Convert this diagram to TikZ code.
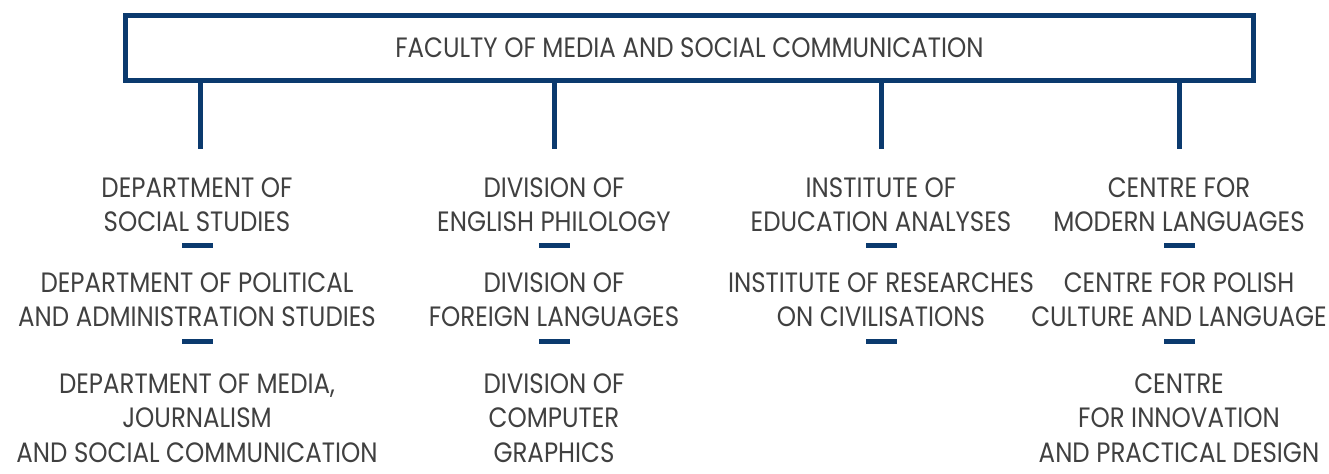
\documentclass[tikz,border=0pt]{standalone}
\usepackage{fontspec}
\setmainfont{Poppins}[FakeStretch=0.875]
\usetikzlibrary{positioning}

\definecolor{navy}{HTML}{0B3A6E}
\definecolor{ink}{HTML}{404040}

\begin{document}
\begin{tikzpicture}[x=0.75pt,y=-0.75pt,line cap=butt]
  \tikzstyle{head}=[draw=navy,line width=3.75pt,outer sep=0pt,
                    minimum width=846pt,minimum height=48.75pt,
                    text=ink,font=\fontsize{21}{25.9}\selectfont]
  \tikzstyle{unit}=[anchor=north,inner sep=0pt,align=center,
                    text=ink,font=\fontsize{21}{25.9}\selectfont]
  \tikzstyle{sepbar}=[fill=navy,inner sep=0pt,minimum width=23.25pt,
                      minimum height=3.75pt]
  \tikzstyle{link}=[draw=navy,line width=3.75pt]

  \useasboundingbox (0,0) rectangle (1329,474);

  \node[head] (fac) at (689.5,48) {FACULTY OF MEDIA AND SOCIAL COMMUNICATION};

  % ends of the four stems
  \coordinate (s1) at (200.5,149);
  \coordinate (s2) at (554,149);
  \coordinate (s3) at (881.5,149);
  \coordinate (s4) at (1179,149);

  % departments
  \node[unit] (dss) at (197,177) {DEPARTMENT OF\\SOCIAL STUDIES};
  \node[sepbar] (dss-b) at (197,245.5) {};
  \node[unit] (dpa) at (197,272) {DEPARTMENT OF POLITICAL\\AND ADMINISTRATION STUDIES};
  \node[sepbar] (dpa-b) at (197,341.5) {};
  \node[unit] (dmj) at (197,373) {DEPARTMENT OF MEDIA,\\JOURNALISM\\AND SOCIAL COMMUNICATION};

  % divisions
  \node[unit] (dep) at (554,177) {DIVISION OF\\ENGLISH PHILOLOGY};
  \node[sepbar] (dep-b) at (554,245.5) {};
  \node[unit] (dfl) at (554,272) {DIVISION OF\\FOREIGN LANGUAGES};
  \node[sepbar] (dfl-b) at (554,341.5) {};
  \node[unit] (dcg) at (554,373) {DIVISION OF\\COMPUTER\\GRAPHICS};

  % institutes
  \node[unit] (iea) at (881,177) {INSTITUTE OF\\EDUCATION ANALYSES};
  \node[sepbar] (iea-b) at (881,245.5) {};
  \node[unit] (irc) at (881,272) {INSTITUTE OF RESEARCHES\\ON CIVILISATIONS};
  \node[sepbar] (irc-b) at (881,341.5) {};

  % centres
  \node[unit] (cml) at (1179,177) {CENTRE FOR\\MODERN LANGUAGES};
  \node[sepbar] (cml-b) at (1179,245.5) {};
  \node[unit] (cpc) at (1179,272) {CENTRE FOR POLISH\\CULTURE AND LANGUAGE};
  \node[sepbar] (cpc-b) at (1179,341.5) {};
  \node[unit] (cip) at (1179,373) {CENTRE\\FOR INNOVATION\\AND PRACTICAL DESIGN};

  \foreach \s in {s1,s2,s3,s4}
    \draw[link] (fac.south -| \s) -- (\s);
\end{tikzpicture}
\end{document}
